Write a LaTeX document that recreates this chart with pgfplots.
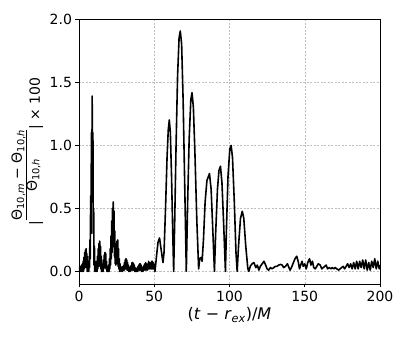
\documentclass[border=0pt]{standalone}
\usepackage{amsmath}
\usepackage{fontspec}
\setmainfont{DejaVu Sans}
\usepackage{pgfplots}
\pgfplotsset{compat=1.18}

% relative error of Theta_10, magnitude x 100
\pgfplotstableread{
x y
0 0.0
0.25 0.03
0.5 0.0
0.75 0.04
1.0 0.0
1.25 0.03
1.5 0.0
1.75 0.05
2.0 0.0
2.25 0.06
2.5 0.0
2.75 0.08
3.0 0.0
3.25 0.11
3.5 0.02
3.75 0.15
4.0 0.03
4.25 0.17
4.5 0.04
4.75 0.18
5.0 0.03
5.25 0.14
5.5 0.0
5.75 0.08
6.0 0.0
6.25 0.05
6.5 0.0
6.75 0.12
7.0 0.03
7.25 0.25
7.5 0.10
7.75 0.60
8.0 0.30
8.25 1.10
8.5 0.55
8.75 1.39
9.0 0.60
9.25 1.10
9.5 0.30
9.75 0.50
10.0 0.05
10.25 0.20
10.5 0.0
10.75 0.08
11.0 0.0
11.25 0.05
11.5 0.0
11.75 0.08
12.0 0.0
12.25 0.12
12.5 0.02
12.75 0.18
13.0 0.04
13.25 0.22
13.5 0.05
13.75 0.24
14.0 0.04
14.25 0.20
14.5 0.02
14.75 0.12
15.0 0.0
15.25 0.06
15.5 0.0
15.75 0.05
16.0 0.0
16.25 0.09
16.5 0.02
16.75 0.13
17.0 0.03
17.25 0.15
17.5 0.03
17.75 0.14
18.0 0.02
18.25 0.08
18.5 0.0
18.75 0.04
19.0 0.0
19.25 0.03
19.5 0.0
19.75 0.05
20.0 0.0
20.25 0.10
20.5 0.02
20.75 0.18
21.0 0.05
21.25 0.28
21.5 0.10
21.75 0.40
22.0 0.15
22.25 0.50
22.5 0.20
22.75 0.55
23.0 0.20
23.25 0.48
23.5 0.12
23.75 0.32
24.0 0.06
24.25 0.22
24.5 0.05
24.75 0.20
25.0 0.06
25.25 0.24
25.5 0.06
25.75 0.25
26.0 0.04
26.25 0.18
26.5 0.02
26.75 0.10
27.0 0.0
27.25 0.06
27.5 0.01
27.75 0.04
28 0.0
28.25 0.03
28.5 0.01
28.75 0.03
29 0.0
29.25 0.04
29.5 0.01
29.75 0.05
30 0.01
30.25 0.07
30.5 0.02
30.75 0.09
31 0.02
31.25 0.10
31.5 0.02
31.75 0.09
32 0.01
32.25 0.07
32.5 0.01
32.75 0.05
33 0.0
33.25 0.03
33.5 0.0
33.75 0.03
34 0.0
34.25 0.04
34.5 0.01
34.75 0.05
35 0.01
35.25 0.07
35.5 0.01
35.75 0.07
36 0.01
36.25 0.06
36.5 0.01
36.75 0.05
37 0.0
37.25 0.03
37.5 0.0
37.75 0.02
38 0.0
38.25 0.02
38.5 0.0
38.75 0.03
39 0.0
39.25 0.04
39.5 0.01
39.75 0.05
40 0.01
40.25 0.06
40.5 0.01
40.75 0.06
41 0.01
41.25 0.05
41.5 0.0
41.75 0.03
42 0.0
42.25 0.02
42.5 0.0
42.75 0.04
43 0.01
43.25 0.05
43.5 0.01
43.75 0.06
44 0.01
44.25 0.07
44.5 0.02
44.75 0.06
45 0.01
45.25 0.05
45.5 0.01
45.75 0.06
46 0.02
46.25 0.08
46.5 0.02
46.75 0.07
47 0.02
47.25 0.06
47.5 0.02
47.75 0.07
48 0.02
48.25 0.08
48.5 0.02
48.75 0.08
49 0.02
49.25 0.07
49.5 0.02
49.75 0.06
50 0.03
50.5 0.0
51.5 0.12
52.5 0.23
53.5 0.265
54.5 0.18
55.8 0.07
56.5 0.15
57.5 0.50
58.5 0.90
59.3 1.12
60 1.20
60.7 1.10
61.5 0.75
62.3 0.30
62.9 0.0
63.6 0.40
64.5 1.00
65.5 1.55
66.5 1.85
67.3 1.905
68.2 1.80
69.2 1.35
70.3 0.65
71.3 0.0
72.2 0.55
73.2 1.05
74.3 1.36
75.1 1.416
76 1.30
77 0.95
78.3 0.40
79.5 0.02
80.2 0.10
81.1 0.11
81.8 0.08
82.7 0.25
83.8 0.55
85 0.72
86.7 0.775
87.8 0.65
89 0.30
90 0.0
90.8 0.30
92 0.65
93 0.80
94 0.833
95 0.70
96.2 0.35
97.3 0.0
98 0.35
99 0.75
100.2 0.97
101.1 0.998
102 0.90
103.2 0.55
104.3 0.15
105.1 0.0
106 0.20
107.3 0.42
108.5 0.476
109.5 0.42
110.8 0.20
112.2 0.02
112.9 0.0
113.8 0.04
115 0.06
116.2 0.07
117.5 0.03
118.5 0.05
119.5 0.01
120.5 0.04
121.7 0.06
122.9 0.08
124 0.05
125 0.02
126 0.01
127.2 0.03
128.3 0.02
129.4 0.03
130.5 0.04
131.5 0.04
132.7 0.05
133.9 0.055
135 0.05
136 0.03
137.2 0.04
138.5 0.06
139.5 0.03
140.3 0.01
141.5 0.04
142.5 0.07
143.5 0.10
144.7 0.12
145.8 0.07
146.5 0.02
147.3 0.05
148.2 0.08
149.0 0.04
150 0.06
151 0.02
152 0.07
153.2 0.10
154.1 0.05
155.1 0.08
156 0.03
157 0.02
158 0.04
159 0.06
160.3 0.05
161.3 0.02
162.3 0.03
163.3 0.04
164.2 0.05
165.2 0.02
166.2 0.03
167.3 0.02
168.3 0.03
169.3 0.02
170.3 0.03
171.3 0.02
172.5 0.01
173.5 0.02
174.5 0.03
175.5 0.04
176.5 0.02
177.5 0.04
178.5 0.06
179.5 0.03
180.5 0.06
181.5 0.02
182.5 0.07
183.5 0.02
184.5 0.08
185.5 0.02
186.5 0.08
187.5 0.03
188.5 0.09
189.5 0.02
190.5 0.09
191.5 0.01
192.5 0.07
193.5 0.01
194.5 0.08
195.5 0.03
196.5 0.10
197.5 0.02
198.5 0.08
199.5 0.02
200 0.05
}\errdata

\begin{document}
\begin{tikzpicture}
\useasboundingbox (-79pt,-55pt) rectangle (328pt,284pt);
\begin{axis}[
    scale only axis,
    width=301pt, height=265pt,
    xmin=0, xmax=200, ymin=-0.1, ymax=2.0,
    xtick={0,50,100,150,200},
    ytick={0,0.5,1.0,1.5,2.0},
    yticklabel style={/pgf/number format/.cd, fixed, fixed zerofill, precision=1},
    /pgf/number format/assume math mode=true,
    ticklabel style={font=\fontsize{14}{16}\selectfont},
    tick align=outside,
    tick pos=left,
    major tick length=3.5pt,
    tick style={black, line width=0.7pt},
    axis line style={black, line width=0.7pt},
    grid=major,
    major grid style={gray!50, line width=0.5pt, dash pattern=on 2pt off 1.5pt},
    xlabel={(\textit{t} − \textit{r}\textsubscript{\textit{ex}})/\textit{M}},
    xlabel style={font=\fontsize{16}{19}\selectfont, at={(axis description cs:0.5,0)}, anchor=base, yshift=-36pt},
    ylabel={|\raisebox{3pt}{\setlength{\tabcolsep}{0pt}\renewcommand{\arraystretch}{0.85}\begin{tabular}[b]{c}Θ\textsubscript{10,\textit{m}} − Θ\textsubscript{10,\textit{h}}\\\hline Θ\textsubscript{10,\textit{h}}\end{tabular}}| × 100},
    ylabel style={font=\fontsize{14}{17}\selectfont, at={(axis description cs:-0.1296,0.5)}, anchor=base, rotate=0},
]
\addplot[black, line width=1.6pt, line join=round] table {\errdata};
\end{axis}
\end{tikzpicture}
\end{document}
